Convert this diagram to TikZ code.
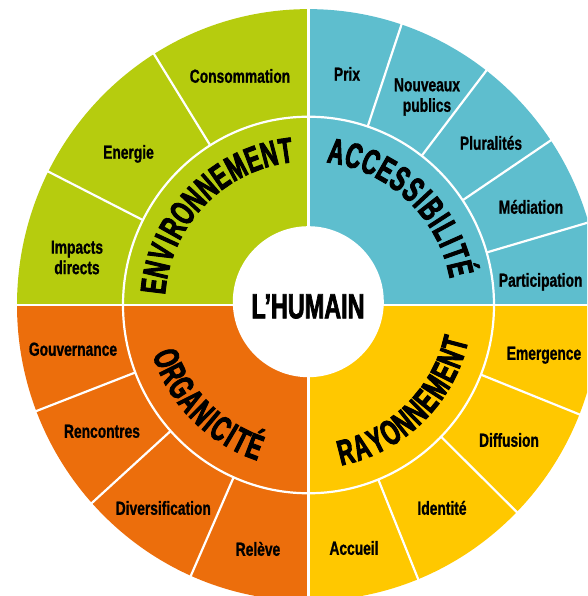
\documentclass[tikz,border=0pt]{standalone}
\usepackage{fontspec}
\newfontfamily\labfont{Liberation Sans}[FakeStretch=0.73,FakeBold=0.9]
\newfontfamily\bigfont{Liberation Sans}[FakeStretch=0.62,FakeBold=2.6]
\newfontfamily\midfont{Liberation Sans}[FakeStretch=0.67,FakeBold=2]
\definecolor{cgreen}{RGB}{182,204,14}
\definecolor{cblue}{RGB}{94,190,206}
\definecolor{cyellow}{RGB}{255,200,0}
\definecolor{corange}{RGB}{236,110,12}
\begin{document}
\begin{tikzpicture}[x=1pt,y=1pt,
  sep/.style={white, line width=2.2pt},
  lab/.style={font=\labfont\bfseries\fontsize{18.9}{20.5}\selectfont, inner sep=0pt, text height=13.5pt, text depth=0pt},
  labtwo/.style={font=\labfont\bfseries\fontsize{18.9}{20.5}\selectfont, inner sep=0pt, align=center},
  bigl/.style={font=\bigfont\bfseries\fontsize{35.5}{36}\selectfont, inner sep=0pt, text height=25.4pt, text depth=0pt},
  midl/.style={font=\midfont\bfseries\fontsize{34.9}{36}\selectfont, inner sep=0pt, text height=25pt, text depth=0pt}]
\useasboundingbox (-308.5,-291) rectangle (278.5,305);
\clip (-308.5,-291) rectangle (278.5,305);
\begin{scope}[yscale=1.015]
\fill[cblue] (0,0) -- (0:291.5pt) arc[start angle=0,end angle=90,radius=291.5pt] -- cycle;
\fill[cgreen] (0,0) -- (90:291.5pt) arc[start angle=90,end angle=180,radius=291.5pt] -- cycle;
\fill[corange] (0,0) -- (180:291.5pt) arc[start angle=180,end angle=270,radius=291.5pt] -- cycle;
\fill[cyellow] (0,0) -- (270:291.5pt) arc[start angle=270,end angle=360,radius=291.5pt] -- cycle;
\draw[sep] (0,0) circle[radius=185.5pt];
\foreach \a in {122,153.2,16.2,33.8,52.4,71.4,-21.7,-44.4,-67.9,201,222,246.2}
  \draw[sep] (\a:185.5pt) -- (\a:300pt);
\draw[sep] (-300pt,0) -- (300pt,0);
\draw[sep] (0,-300pt) -- (0,300pt);
\end{scope}
\fill[white] (-0.2,3.3) circle[radius=75.5pt];
\node[midl] (humain) at (-0.5,-0.8) {L’HUMAIN};
% big ring labels
\foreach \l/\a [count=\i] in {E/173.05,N/166.84,V/160.29,I/155.38,R/150.47,O/143.93,N/137.38,N/130.84,E/124.62,M/117.75,E/110.88,N/104.66,T/98.44}
  \node[bigl, rotate=\a-90] (env\i) at (\a:156.5pt) {\l};
\foreach \l/\a [count=\i] in {A/79.69,C/73.07,C/66.45,E/60.16,S/54.03,S/47.74,I/42.94,B/37.98,I/33.01,L/28.54,I/24.07,T/19.44,É/13.48}
  \node[bigl, rotate=\a-90] (acc\i) at (\a:156.5pt) {\l};
\foreach \l/\a [count=\i] in {O/200.60,R/206.79,G/212.98,A/219.18,N/225.37,I/230.01,C/234.66,I/239.30,T/243.64,É/249.21}
  \node[bigl, rotate=\a+90] (org\i) at (\a:151pt) {\l};
\foreach \l/\a [count=\i] in {R/-75.74,A/-69.61,Y/-63.48,O/-57.35,N/-51.22,N/-45.10,E/-39.27,M/-32.84,E/-26.41,N/-20.58,T/-14.76}
  \node[bigl, rotate=\a+90] (ray\i) at (\a:151pt) {\l};
% outer labels
\node[lab] (consommation) at (-68.5,229) {Consommation};
\node[lab] (energie) at (-180,153) {Energie};
\node[labtwo] (impacts) at (-231.5,47.5) {Impacts\\directs};
\node[lab] (prix) at (38.5,231) {Prix};
\node[labtwo] (nouveaux) at (118.5,208) {Nouveaux\\publics};
\node[lab] (pluralites) at (182.5,162) {Pluralités};
\node[lab] (mediation) at (222.5,98) {Médiation};
\node[lab, anchor=west] (participation) at (190.2,25) {Participation};
\node[lab] (emergence) at (235.5,-48) {Emergence};
\node[lab] (diffusion) at (200.5,-135) {Diffusion};
\node[lab] (identite) at (133.5,-203) {Identité};
\node[lab] (accueil) at (45.5,-243) {Accueil};
\node[lab] (gouvernance) at (-235.5,-44) {Gouvernance};
\node[lab] (rencontres) at (-206.5,-126) {Rencontres};
\node[lab] (diversification) at (-145.2,-203) {Diversification};
\node[lab] (releve) at (-50.5,-244) {Relève};
\end{tikzpicture}
\end{document}
